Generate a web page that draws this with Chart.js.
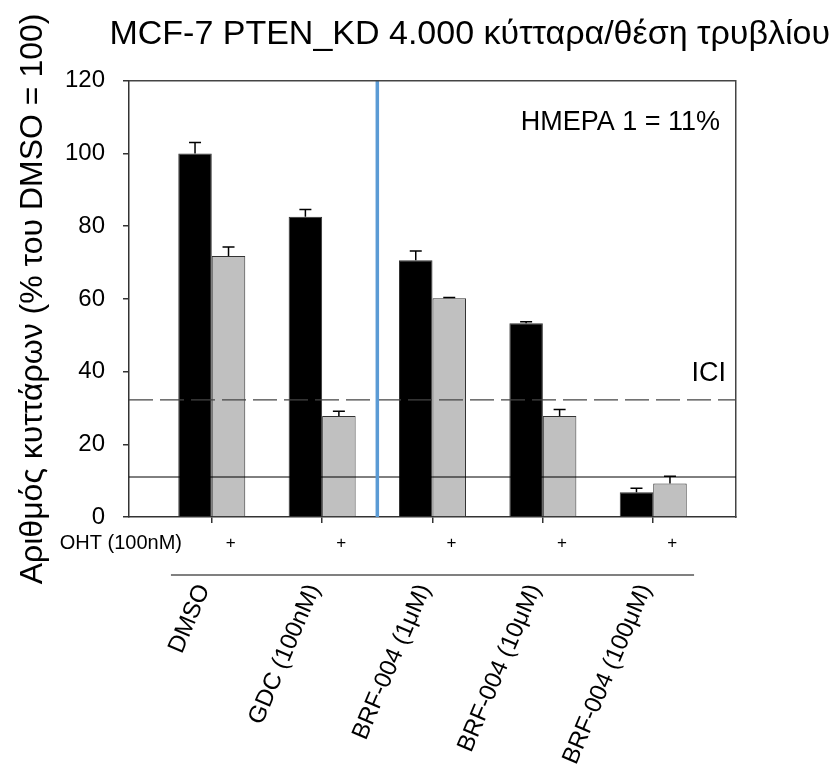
<!DOCTYPE html>
<html>
<head>
<meta charset="utf-8">
<script src="https://cdn.jsdelivr.net/npm/chart.js@4.4.1/dist/chart.umd.min.js"></script>
<style>
  body { margin: 0; background: #fff; }
</style>
</head>
<body>
<canvas id="chart" width="838" height="770"></canvas>
<script>
// data
const groups = ['DMSO', 'GDC (100nM)', 'BRF-004 (1μM)', 'BRF-004 (10μM)', 'BRF-004 (100μM)'];
const ohtMarks = ['+', '+', '+', '+', '+'];
const noOht = [100, 82.6, 70.6, 53.3, 6.8];
const noOhtErr = [3.0, 2.0, 2.6, 0.4, 1.1];
const withOht = [71.8, 27.8, 60.2, 27.8, 9.2];
const withOhtErr = [2.5, 1.3, 0.2, 1.8, 2.0];
const yTicks = [0, 20, 40, 60, 80, 100, 120];
const iciLevel = 32.2;   // dashed reference line (ICI)
const day1Level = 11;    // solid line, day 1 = 11%
const dividerAt = 1.5;   // blue vertical line between GDC and BRF-004

const FONT = "'Liberation Sans', Arial, sans-serif";
const xMin = -0.75, xMax = groups.length - 0.25;

const positions = groups.map((g, i) => i);
const toPoints = (vals) => vals.map((v, i) => ({ x: positions[i], y: v }));
const setGroupTicks = (scale) => { scale.ticks = positions.map(v => ({ value: v })); };

// error bars (upper only) + extra text / lines
const extras = {
  id: 'extras',
  afterDatasetsDraw(chart) {
    const ctx = chart.ctx;
    const y = chart.scales.y;
    const errs = { 3: noOhtErr, 4: withOhtErr };
    ctx.save();
    ctx.strokeStyle = '#000';
    ctx.lineWidth = 1.5;
    Object.keys(errs).forEach(di => {
      const meta = chart.getDatasetMeta(+di);
      const vals = chart.data.datasets[di].data;
      meta.data.forEach((bar, i) => {
        const top = y.getPixelForValue(vals[i].y + errs[di][i]);
        ctx.beginPath();
        ctx.moveTo(bar.x, bar.y);
        ctx.lineTo(bar.x, top);
        ctx.moveTo(bar.x - 6, top);
        ctx.lineTo(bar.x + 6, top);
        ctx.stroke();
      });
    });
    ctx.restore();
  },
  afterDraw(chart) {
    const { ctx, chartArea } = chart;
    const x = chart.scales.x, y = chart.scales.y, x2 = chart.scales.x2;
    ctx.save();
    // top frame line
    ctx.strokeStyle = '#444';
    ctx.lineWidth = 1.5;
    ctx.beginPath();
    ctx.moveTo(chartArea.left, chartArea.top);
    ctx.lineTo(chartArea.right, chartArea.top);
    ctx.stroke();

    // separator under the OHT row
    ctx.strokeStyle = '#808080';
    ctx.lineWidth = 2;
    ctx.beginPath();
    ctx.moveTo(x.getPixelForValue(-0.37), x2.top);
    ctx.lineTo(x.getPixelForValue(4.37), x2.top);
    ctx.stroke();

    ctx.fillStyle = '#000';
    ctx.textBaseline = 'middle';
    ctx.textAlign = 'right';
    ctx.font = '20px ' + FONT;
    ctx.fillText('OHT (100nM)', x.getPixelForValue(-0.27), 543);

    ctx.font = '27px ' + FONT;
    ctx.fillText('ΗΜΕΡΑ 1 = 11%', x.getPixelForValue(4.605), y.getPixelForValue(108.4));
    ctx.fillText('ICI', x.getPixelForValue(4.66), y.getPixelForValue(39.6));
    ctx.restore();
  }
};

new Chart(document.getElementById('chart'), {
  type: 'bar',
  data: {
    datasets: [
      {
        type: 'line',
        label: 'divider',
        data: [{ x: dividerAt, y: 0 }, { x: dividerAt, y: 120 }],
        borderColor: '#5b9bd5',
        borderWidth: 3.5,
        pointRadius: 0,
        fill: false,
      },
      {
        type: 'line',
        label: 'ICI',
        data: [{ x: xMin, y: iciLevel }, { x: xMax, y: iciLevel }],
        borderColor: '#444',
        borderWidth: 1.2,
        borderDash: [24, 7],
        pointRadius: 0,
        fill: false,
      },
      {
        type: 'line',
        label: 'day 1',
        data: [{ x: xMin, y: day1Level }, { x: xMax, y: day1Level }],
        borderColor: '#000',
        borderWidth: 1,
        pointRadius: 0,
        fill: false,
      },
      {
        label: '- OHT',
        data: toPoints(noOht),
        backgroundColor: '#000',
        borderColor: '#333',
        borderWidth: 1,
        categoryPercentage: 0.607,
        barPercentage: 1.0,
      },
      {
        label: '+ OHT',
        data: toPoints(withOht),
        backgroundColor: '#c0c0c0',
        borderColor: '#333',
        borderWidth: 1,
        categoryPercentage: 0.607,
        barPercentage: 1.0,
      },
    ],
  },
  options: {
    responsive: false,
    animation: false,
    layout: { padding: { left: 0, right: 8, top: 0, bottom: 0 } },
    scales: {
      x: {
        type: 'linear',
        min: xMin,
        max: xMax,
        offset: false,
        afterBuildTicks: setGroupTicks,
        afterFit: (s) => { s.height = 58; },
        grid: { display: true, drawOnChartArea: false, offset: false, tickLength: 6, color: '#333', lineWidth: 1.5 },
        border: { color: '#333', width: 1.5 },
        ticks: {
          callback: (v, i) => ohtMarks[i],
          font: { family: FONT, size: 17 },
          color: '#000',
          padding: 10,
          labelOffset: 19,
          maxRotation: 0,
          autoSkip: false,
        },
      },
      x2: {
        type: 'linear',
        position: 'bottom',
        weight: 1,
        min: xMin,
        max: xMax,
        offset: false,
        afterBuildTicks: setGroupTicks,
        afterFit: (s) => { s.height = 195; },
        grid: { display: false, drawTicks: false },
        border: { display: false },
        ticks: {
          callback: (v, i) => groups[i],
          font: { family: FONT, size: 24 },
          color: '#000',
          padding: 5,
          minRotation: 67,
          maxRotation: 67,
          labelOffset: -8,
          autoSkip: false,
        },
      },
      y: {
        min: 0,
        max: 120,
        afterBuildTicks: (s) => { s.ticks = yTicks.map(v => ({ value: v })); },
        afterFit: (s) => { s.width = 129; },
        grid: { drawOnChartArea: false, tickLength: 6, color: '#333', lineWidth: 1.5 },
        border: { color: '#333', width: 1.5 },
        ticks: { font: { family: FONT, size: 24 }, color: '#000', padding: 18 },
        title: {
          display: true,
          text: 'Αριθμός κυττάρων (% του DMSO = 100)',
          font: { family: FONT, size: 32 },
          color: '#000',
          padding: { top: 14, bottom: 0 },
        },
      },
      y2: {
        position: 'right',
        min: 0,
        max: 120,
        afterFit: (s) => { s.width = 94; },
        grid: { display: false, drawTicks: false },
        border: { color: '#444', width: 1.5 },
        ticks: { display: false },
      },
    },
    plugins: {
      legend: { display: false },
      tooltip: { enabled: false },
      title: {
        display: true,
        text: 'MCF-7 PTEN_KD 4.000 κύτταρα/θέση τρυβλίου',
        align: 'end',
        color: '#000',
        font: { family: FONT, size: 34, weight: 'normal' },
        padding: { top: 14, bottom: 26 },
      },
    },
  },
  plugins: [extras],
});
</script>
</body>
</html>
